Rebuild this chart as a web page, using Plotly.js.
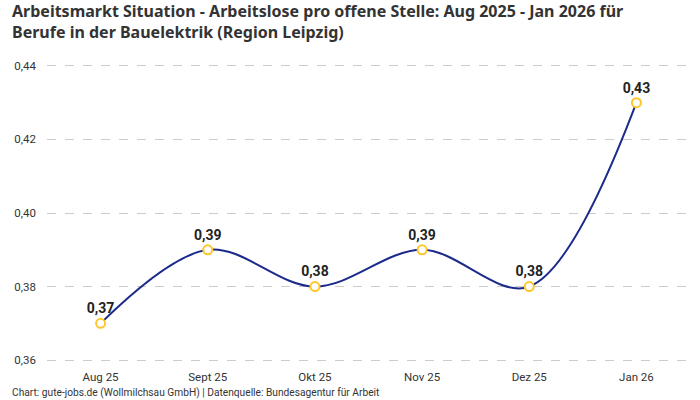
<!DOCTYPE html>
<html><head><meta charset="utf-8">
<script src="https://cdn.plot.ly/plotly-3.0.1.min.js"></script>
<style>html,body{margin:0;padding:0;background:#fff}#c{width:700px;height:400px}</style>
</head><body><div id="c"></div>
<script>
const categories = ["Aug 25", "Sept 25", "Okt 25", "Nov 25", "Dez 25", "Jan 26"];
const values = [0.37, 0.39, 0.38, 0.39, 0.38, 0.43];
const yTicks = [0.36, 0.38, 0.40, 0.42, 0.44];
const yTickLabels = ["0,36", "0,38", "0,40", "0,42", "0,44"];
const valueLabels = values.map(v => v.toFixed(2).replace(".", ","));
const titleLines = [
  "Arbeitsmarkt Situation - Arbeitslose pro offene Stelle: Aug 2025 - Jan 2026 für",
  "Berufe in der Bauelektrik (Region Leipzig)"
];
const footer = "Chart: gute-jobs.de (Wollmilchsau GmbH) | Datenquelle: Bundesagentur für Arbeit";

const FONT = "Roboto, 'Noto Sans', sans-serif";
const TFONT = "'Noto Sans', Roboto, sans-serif";
const trace = {
  x: categories, y: values, type: "scatter", mode: "lines+markers+text",
  line: {shape: "spline", smoothing: 1, color: "#1c2a8c", width: 2},
  marker: {size: 9, color: "#ffffff", line: {color: "#ffc629", width: 2}},
  text: valueLabels, textposition: "top center",
  textfont: {family: FONT, size: 14, color: "#222222", weight: "bold"},
  cliponaxis: false, hoverinfo: "x+y"
};
const PT = 64, PH = 298, PL = 47, PW = 643;
const py = px => (362 - px) / PH;
const pxx = px => (px - PL) / PW;
const layout = {
  width: 700, height: 400,
  margin: {l: PL, r: 10, t: PT, b: 38},
  paper_bgcolor: "#fff", plot_bgcolor: "#fff",
  font: {family: FONT, color: "#333"},
  showlegend: false,
  xaxis: {
    type: "category", range: [-0.5, 5.5], showgrid: false, zeroline: false,
    showline: false, ticks: "", ticklabelstandoff: 6, tickfont: {size: 11.5, color: "#333"}
  },
  yaxis: {
    range: [0.3595, 0.4405], tickvals: yTicks, ticktext: yTickLabels,
    showgrid: true, gridcolor: "#cccccc", griddash: "dash", gridwidth: 1,
    zeroline: false, showline: false, ticks: "", ticklabelstandoff: 10,
    tickfont: {size: 11.5, color: "#333"}
  },
  annotations: [
    {text: "<b>" + titleLines.join("<br>") + "</b>", xref: "paper", yref: "paper", x: pxx(10), y: py(21.5),
     xanchor: "left", yanchor: "middle", align: "left", showarrow: false,
     font: {family: TFONT, size: 16, color: "#333333"}},
    {text: footer, xref: "paper", yref: "paper", x: pxx(10), y: py(393),
     xanchor: "left", yanchor: "middle", showarrow: false,
     font: {family: FONT, size: 10.2, color: "#333"}}
  ]
};
Plotly.newPlot("c", [trace], layout, {displayModeBar: false, staticPlot: true});
</script></body></html>
